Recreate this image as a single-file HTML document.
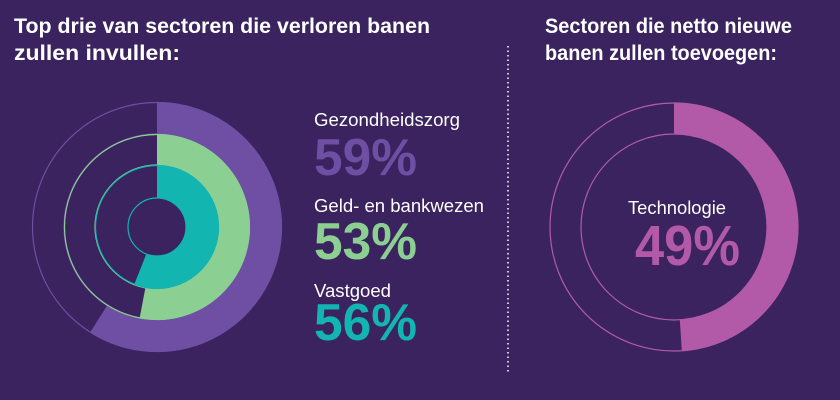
<!DOCTYPE html>
<html><head><meta charset="utf-8"><style>
body{margin:0;width:840px;height:400px;background:#3a235e;overflow:hidden;font-family:"Liberation Sans",sans-serif;}
svg{position:absolute;left:0;top:0}
</style></head><body>
<svg id="chart" width="840" height="400">
<g font-family="Liberation Sans, sans-serif" font-weight="bold" fill="#fff" font-size="21">
<text x="14" y="33" textLength="416" lengthAdjust="spacingAndGlyphs">Top drie van sectoren die verloren banen</text>
<text x="14" y="60" textLength="166" lengthAdjust="spacingAndGlyphs">zullen invullen:</text>
<text x="545" y="33" textLength="247" lengthAdjust="spacingAndGlyphs">Sectoren die netto nieuwe</text>
<text x="545" y="60" textLength="232" lengthAdjust="spacingAndGlyphs">banen zullen toevoegen:</text>
</g>
<line x1="508" y1="46" x2="508" y2="372" stroke="#fff" stroke-width="1.5" stroke-dasharray="1.5,3"/>
<g id="marks"></g>
<g font-family="Liberation Sans, sans-serif" fill="#fff" font-size="18">
<text x="314" y="126" textLength="146" lengthAdjust="spacingAndGlyphs">Gezondheidszorg</text>
<text x="314" y="212" textLength="170" lengthAdjust="spacingAndGlyphs">Geld- en bankwezen</text>
<text x="314" y="297" textLength="77" lengthAdjust="spacingAndGlyphs">Vastgoed</text>
<text x="628" y="214" textLength="98" lengthAdjust="spacingAndGlyphs">Technologie</text>
</g>
<g font-family="Liberation Sans, sans-serif" font-weight="bold" font-size="52">
<text id="v0" x="314" y="175" textLength="103" lengthAdjust="spacingAndGlyphs" fill="#6e4fa3"></text>
<text id="v1" x="314" y="259" textLength="103" lengthAdjust="spacingAndGlyphs" fill="#8ccf93"></text>
<text id="v2" x="314" y="340" textLength="103" lengthAdjust="spacingAndGlyphs" fill="#13b5b1"></text>
<text id="v3" x="635" y="265" font-size="57" textLength="105" lengthAdjust="spacingAndGlyphs" fill="#b25aa8"></text>
</g>
</svg>
<script>
const categories = ["Gezondheidszorg","Geld- en bankwezen","Vastgoed","Technologie"];
const values = [59, 53, 56, 49];
const colors = ["#6e4fa3","#8ccf93","#13b5b1","#b25aa8"];
const NS="http://www.w3.org/2000/svg";
const g=document.getElementById('marks');
function angle(v){return v/100*2*Math.PI;}
function pt(cx,cy,r,a){return [cx+r*Math.sin(a),cy-r*Math.cos(a)];}
function arc(cx,cy,ro,ri,v,color,name){
  const a=angle(v),large=v>50?1:0;
  const [x1,y1]=pt(cx,cy,ro,0),[x2,y2]=pt(cx,cy,ro,a),[x3,y3]=pt(cx,cy,ri,a),[x4,y4]=pt(cx,cy,ri,0);
  const p=document.createElementNS(NS,'path');
  p.setAttribute('d',`M${x1} ${y1}A${ro} ${ro} 0 ${large} 1 ${x2} ${y2}L${x3} ${y3}A${ri} ${ri} 0 ${large} 0 ${x4} ${y4}Z`);
  p.setAttribute('fill',color);
  
  
  g.appendChild(p);
}
function ring(cx,cy,r,color,name){
  const c=document.createElementNS(NS,'circle');
  c.setAttribute('cx',cx);c.setAttribute('cy',cy);c.setAttribute('r',r);
  c.setAttribute('fill','none');c.setAttribute('stroke',color);c.setAttribute('stroke-width','1.2');
  
  
  g.appendChild(c);
}
const radii=[[125,93],[93,62],[62,29]];
const cx=157,cy=227;
for(let i=0;i<3;i++){
  ring(cx,cy,radii[i][0]-0.5,colors[i],'ring-outline-'+i);
  ring(cx,cy,radii[i][1],colors[i],'ring-inner-outline-'+i);
  arc(cx,cy,radii[i][0],radii[i][1],values[i],colors[i],'arc-'+i);
}
ring(674,227,124,colors[3],'ring-outline-technologie');
ring(674,227,93,colors[3],'ring-inner-outline-technologie');
arc(674,227,124,93,values[3],colors[3],'arc-technologie');
for(let i=0;i<4;i++)document.getElementById('v'+i).textContent=values[i]+'%';
</script>
</body></html>
